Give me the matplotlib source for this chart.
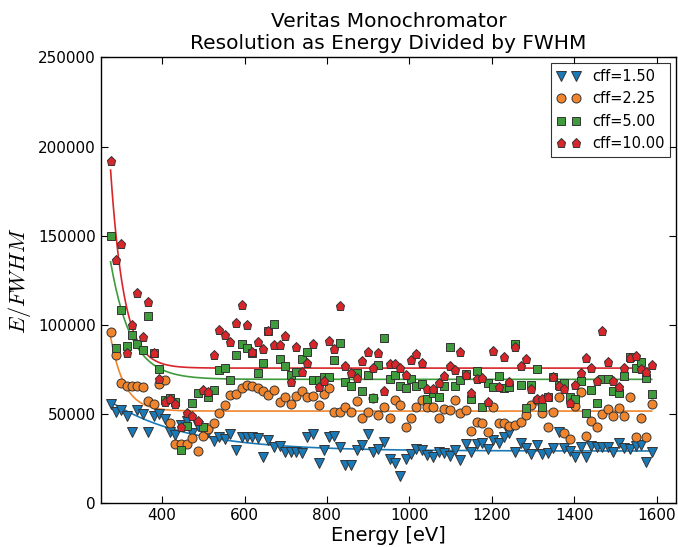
import numpy as np
import matplotlib
matplotlib.use("Agg")
import matplotlib.pyplot as plt

plt.rcParams['mathtext.fontset'] = 'cm'

energy = [275, 288, 300, 314, 326, 340, 353, 367, 380, 393, 407, 419, 432, 446, 460, 473, 487, 500, 512, 526,
          539, 553, 566, 579, 594, 606, 619, 632, 646, 658, 672, 685, 699, 713, 726, 739, 751, 766, 780, 792,
          806, 818, 831, 845, 858, 873, 885, 899, 912, 925, 938, 952, 964, 978, 991, 1005, 1017, 1031, 1043, 1058,
          1071, 1083, 1098, 1112, 1124, 1138, 1150, 1163, 1177, 1190, 1202, 1217, 1229, 1243, 1256, 1270, 1283, 1296, 1309, 1322,
          1336, 1349, 1362, 1376, 1389, 1403, 1416, 1429, 1442, 1456, 1468, 1483, 1495, 1508, 1522, 1535, 1549, 1561, 1575, 1588]

cff150 = [55.6, 51.3, 52.3, 48.9, 39.8, 52.3, 49.9, 39.8, 48.9, 49.9, 47.2, 39.8, 38.3, 43.9, 46.3, 39.6, 43.3, 42.0, 40.0, 35.1,
          37.0, 35.9, 38.8, 29.9, 37.0, 37.0, 37.3, 36.4, 26.1, 35.5, 31.7, 32.3, 28.9, 28.9, 28.9, 28.0, 37.3, 38.7, 22.4, 29.9,
          37.3, 37.7, 31.7, 21.5, 21.5, 29.9, 32.7, 38.7, 28.9, 30.3, 34.2, 24.7, 22.4, 15.3, 24.7, 27.5, 30.4, 29.9, 27.1, 25.8,
          28.6, 28.4, 26.5, 29.9, 24.3, 33.2, 28.6, 33.2, 34.0, 30.3, 35.5, 33.6, 37.3, 39.2, 28.9, 33.6, 30.8, 27.6, 32.7, 27.6,
          28.4, 30.8, 39.8, 30.8, 29.3, 26.1, 31.7, 26.1, 32.1, 31.4, 31.7, 31.4, 28.9, 33.6, 30.8, 30.4, 32.3, 32.7, 23.3, 28.6]

cff225 = [96.2, 83.1, 67.3, 65.9, 65.7, 66.0, 65.0, 57.5, 55.7, 66.7, 69.1, 45.0, 33.2, 33.2, 33.2, 36.4, 29.5, 38.0, 41.5, 44.8,
          50.4, 55.0, 60.7, 61.3, 64.5, 66.3, 65.7, 64.5, 63.1, 60.7, 63.5, 57.0, 59.8, 55.7, 60.1, 63.1, 59.8, 60.1, 55.1, 61.3,
          64.5, 51.0, 51.0, 53.8, 51.0, 57.5, 47.6, 51.3, 58.9, 49.5, 53.8, 47.6, 57.9, 55.1, 42.9, 47.6, 53.8, 57.9, 53.8, 53.8,
          47.6, 53.0, 52.3, 57.9, 50.4, 52.3, 40.7, 45.7, 44.8, 40.1, 53.8, 44.8, 45.2, 43.5, 43.9, 45.7, 49.5, 55.1, 57.9, 50.4,
          42.9, 51.3, 59.4, 39.2, 36.0, 54.5, 62.5, 37.9, 46.3, 42.9, 49.9, 52.9, 49.1, 53.2, 49.1, 59.4, 37.0, 47.6, 37.0, 55.5]

cff500 = [149.8, 87.2, 108.3, 88.4, 94.3, 89.1, 85.9, 105.0, 84.1, 75.1, 57.9, 59.2, 56.9, 29.9, 43.3, 56.4, 61.7, 42.9, 59.8, 63.5,
          74.7, 76.0, 69.1, 83.1, 89.1, 86.9, 84.4, 73.2, 78.8, 96.7, 100.5, 80.7, 77.0, 71.9, 73.8, 80.7, 84.6, 69.1, 69.1, 71.0,
          70.6, 80.3, 90.0, 68.2, 66.0, 72.9, 63.1, 71.9, 58.9, 77.5, 92.5, 69.7, 72.0, 65.7, 64.5, 69.7, 65.7, 66.9, 58.5, 62.0,
          59.8, 65.7, 87.8, 66.0, 69.1, 72.5, 58.5, 74.3, 54.1, 67.3, 65.4, 71.4, 64.5, 65.0, 89.3, 66.1, 53.2, 66.3, 75.3, 54.1,
          59.8, 71.0, 66.3, 67.6, 59.4, 58.5, 68.7, 50.8, 63.5, 56.4, 69.5, 69.5, 62.9, 62.0, 71.5, 82.2, 75.7, 79.4, 70.1, 61.3]

cff1000 = [192.0, 136.4, 145.3, 84.4, 99.9, 118.0, 93.4, 113.0, 84.1, 69.7, 56.9, 58.3, 55.7, 42.9, 50.8, 48.9, 46.3, 63.5, 62.5, 83.1,
           97.1, 94.3, 90.6, 100.9, 111.1, 99.9, 85.0, 90.6, 86.3, 96.7, 88.7, 88.7, 93.8, 68.2, 87.8, 73.8, 78.8, 89.3, 65.4, 68.7,
           91.1, 86.3, 110.6, 77.0, 73.2, 70.4, 79.8, 85.0, 75.7, 84.4, 63.1, 78.1, 78.1, 75.7, 72.0, 80.3, 83.7, 78.8, 63.9, 63.9,
           67.6, 71.4, 77.1, 74.7, 84.6, 71.9, 61.7, 69.5, 70.4, 57.0, 85.4, 65.0, 82.2, 68.2, 87.8, 77.0, 80.7, 63.9, 58.3, 58.3,
           59.4, 71.0, 65.7, 63.9, 56.0, 66.3, 72.9, 81.3, 75.7, 68.7, 96.7, 79.4, 68.7, 65.0, 75.7, 81.6, 82.6, 75.1, 73.4, 77.5]

labels = ['cff=1.50', 'cff=2.25', 'cff=5.00', 'cff=10.00']
markers = ['v', 'o', 's', 'p']
colors = ['#1a7ab8', '#f0852d', '#3f9b3c', '#d8262a']

# exponential fit curves: plateau + amp * exp(-(E - E0)/decay)
fit_plateau = [29.3, 51.7, 69.5, 75.8]
fit_amp = [27.7, 41.7, 65.9, 111.0]
fit_decay = [185.0, 33.4, 50.0, 33.0]

series = [cff150, cff225, cff500, cff1000]

fig = plt.figure(figsize=(6.78, 5.47), dpi=100)
ax = fig.add_axes([0.1485, 0.0799, 0.8485, 0.8152])

E = np.array(energy, dtype=float)
Efine = np.linspace(E.min(), E.max(), 400)
for i, vals in enumerate(series):
    curve = (fit_plateau[i] + fit_amp[i] * np.exp(-(Efine - E.min()) / fit_decay[i])) * 1000
    ax.plot(Efine, curve, color=colors[i], lw=1.2, zorder=2)

msizes = [6.5, 6.5, 6.0, 6.5]
handles = []
for i, vals in enumerate(series):
    h, = ax.plot(E, np.array(vals) * 1000, linestyle='none', marker=markers[i],
                 markersize=msizes[i], markerfacecolor=colors[i],
                 markeredgecolor='#333333', markeredgewidth=0.7, label=labels[i], zorder=3 + i)
    handles.append(h)

ax.set_xlim(251, 1647)
ax.set_ylim(0, 250000)
ax.set_xticks([400, 600, 800, 1000, 1200, 1400, 1600])
ax.set_yticks([0, 50000, 100000, 150000, 200000, 250000])
ax.ticklabel_format(axis='y', style='plain', useOffset=False)
ax.tick_params(direction='in', length=5, width=0.8, top=True, right=True, labelsize=11)
for s in ax.spines.values():
    s.set_linewidth(1.0)
    s.set_color('black')

ax.set_title('Veritas Monochromator\nResolution as Energy Divided by FWHM', fontsize=14.5, pad=6)
ax.set_xlabel('Energy [eV]', fontsize=14, labelpad=2)
ax.set_ylabel(r'$E/FWHM$', fontsize=16, labelpad=4)

leg = ax.legend(handles=handles, loc='upper right', numpoints=2, fontsize=10.5, frameon=True,
                fancybox=False, borderaxespad=0.4, handlelength=1.6, labelspacing=0.5)
leg.get_frame().set_edgecolor('black')
leg.get_frame().set_linewidth(0.8)

fig.savefig('out.png', dpi=100)
